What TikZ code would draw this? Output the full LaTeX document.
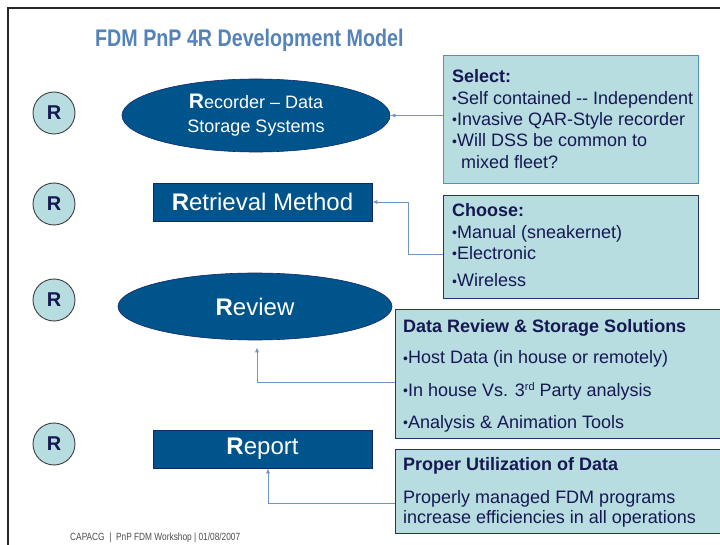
\documentclass[tikz,border=0pt]{standalone}
\usepackage{fontspec}
\setmainfont{Liberation Sans}
\usetikzlibrary{shapes.geometric,arrows.meta}

\definecolor{navyfill}{RGB}{0,84,140}
\definecolor{navyline}{RGB}{20,40,110}
\definecolor{lightbox}{RGB}{183,221,225}
\definecolor{selborder}{RGB}{84,141,200}
\definecolor{darkborder}{RGB}{40,50,110}
\definecolor{textnavy}{RGB}{22,24,82}
\definecolor{titleblue}{RGB}{84,130,186}
\definecolor{connblue}{RGB}{110,150,200}

% small list bullet
\newcommand{\listdot}{\raisebox{0.6pt}{\fontsize{14}{14}\selectfont•}}

\tikzset{
  frameline/.style={draw=black!85, line width=2pt},
  rcirc/.style={circle, draw=black!75, fill=lightbox, line width=0.9pt,
    minimum size=42pt, inner sep=0pt, text=textnavy,
    font=\fontsize{20}{24}\selectfont\bfseries},
  blueell/.style={ellipse, draw=navyline, fill=navyfill, text=white,
    inner sep=0pt, line width=0.6pt},
  bluebox/.style={rectangle, draw=navyline, fill=navyfill, text=white,
    inner sep=0pt, line width=0.6pt},
  infobox/.style={rectangle, fill=lightbox, line width=1pt, inner sep=0pt,
    anchor=north west},
  infotext/.style={anchor=base west, inner sep=0pt, text=textnavy},
  conn/.style={draw=connblue, line width=0.8pt,
    -{Latex[length=5pt,width=4pt]}}
}

\begin{document}
\begin{tikzpicture}[x=1pt,y=-1pt]
\clip (0,0) rectangle (720,545);
\fill[white] (0,0) rectangle (720,545);

% page frame
\draw[frameline] (8,548) -- (8,8) -- (724,8);

% heading
\node[anchor=base west, inner sep=0pt, text=titleblue,
      font=\fontsize{24}{28}\selectfont\bfseries] (title) at (95,47)
  {\scalebox{0.82}[1]{FDM PnP 4R Development Model}};

% the four R markers
\node[rcirc] (r1) at (54,113) {R};
\node[rcirc] (r2) at (54,204) {R};
\node[rcirc] (r3) at (54,300) {R};
\node[rcirc] (r4) at (54,444) {R};

% the four stages
\node[blueell, minimum width=268pt, minimum height=73pt, align=center,
      font=\fontsize{18}{24}\selectfont] (rec) at (256,115.5)
  {{\fontsize{21}{24}\selectfont\bfseries R}ecorder – Data\\Storage Systems};
\node[bluebox, minimum width=219pt, minimum height=38pt,
      font=\fontsize{24}{26}\selectfont] (ret) at (262.5,202)
  {\textbf{R}etrieval Method};
\node[blueell, minimum width=274pt, minimum height=67pt,
      font=\fontsize{24}{26}\selectfont] (rev) at (255,306.5)
  {\textbf{R}eview};
\node[bluebox, minimum width=219pt, minimum height=38pt,
      font=\fontsize{24}{26}\selectfont] (rep) at (262.5,449)
  {\textbf{R}eport};

% information boxes
\node[infobox, draw=selborder, minimum width=255pt, minimum height=128pt]
  (sel) at (443,55) {};
\node[infobox, draw=darkborder, minimum width=255pt, minimum height=103pt]
  (cho) at (443,195) {};
\node[infobox, draw=darkborder, minimum width=340pt, minimum height=129pt]
  (drv) at (395,309) {};
\node[infobox, draw=darkborder, minimum width=340pt, minimum height=84pt]
  (pud) at (395,449) {};

\node[infotext, font=\fontsize{18}{21.3}\selectfont] (selt) at (452,83)
  {\begin{tabular}[t]{@{}l@{}}
   \textbf{Select:}\\
   \listdot Self contained -{}- Independent\\
   \listdot Invasive QAR-Style recorder\\
   \listdot Will DSS be common to\\
   \hspace*{9pt}mixed fleet?
   \end{tabular}};
\node[infotext, font=\fontsize{18}{21.3}\selectfont] (chot) at (452,217)
  {\begin{tabular}[t]{@{}l@{}}
   \textbf{Choose:}\\
   \listdot Manual (sneakernet)\\
   \listdot Electronic\\[6pt]
   \listdot Wireless
   \end{tabular}};
\node[infotext, font=\fontsize{18}{32}\selectfont] (drvt) at (403,332)
  {\begin{tabular}[t]{@{}l@{}}
   \textbf{Data Review \& Storage Solutions}\\
   \listdot Host Data (in house or remotely)\\
   \listdot In house Vs. 3{\fontsize{11}{12}\selectfont\raisebox{6pt}{rd}} Party analysis\\
   \listdot Analysis \& Animation Tools
   \end{tabular}};
\node[infotext, font=\fontsize{18}{20}\selectfont] (pudt) at (403,470)
  {\begin{tabular}[t]{@{}l@{}}
   \textbf{Proper Utilization of Data}\\[13pt]
   Properly managed FDM programs\\
   increase efficiencies in all operations
   \end{tabular}};

% connectors
\draw[conn] (rec.east -| sel.west) -- (rec.east);
\draw[conn] ([yshift=-7.5pt]cho.west) -| ([xshift=36pt]ret.east) -- (ret.east);
\draw[conn, shorten >=7pt] ([yshift=-8.5pt]drv.west) -| ([xshift=2pt]rev.south);
\draw[conn] ([yshift=-12pt]pud.west) -| ([xshift=5.5pt]rep.south);

% footer
\node[anchor=base west, inner sep=0pt, text=black!70,
      font=\fontsize{10.4}{12}\selectfont] (foot) at (70,540)
  {\scalebox{0.8}[1]{CAPACG \ | \ PnP FDM Workshop | 01/08/2007}};
\end{tikzpicture}
\end{document}
